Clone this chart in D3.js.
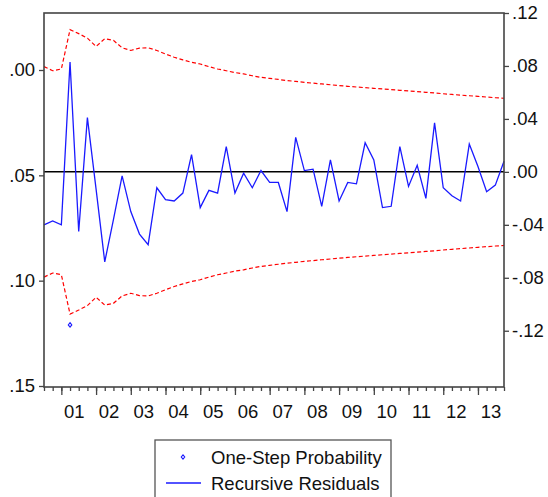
<!DOCTYPE html>
<html>
<head>
<meta charset="utf-8">
<script src="https://cdn.jsdelivr.net/npm/d3@7/dist/d3.min.js"></script>
<style>
  html, body { margin: 0; padding: 0; background: #fff; }
  svg { display: block; }
  text { font-family: "Liberation Sans", Arial, sans-serif; fill: #111; }
</style>
</head>
<body>
<svg id="chart" width="548" height="497"></svg>
<script>
// ---- data ----
const periods = [
  "2000Q3","2000Q4",
  "2001Q1","2001Q2","2001Q3","2001Q4","2002Q1","2002Q2","2002Q3","2002Q4",
  "2003Q1","2003Q2","2003Q3","2003Q4","2004Q1","2004Q2","2004Q3","2004Q4",
  "2005Q1","2005Q2","2005Q3","2005Q4","2006Q1","2006Q2","2006Q3","2006Q4",
  "2007Q1","2007Q2","2007Q3","2007Q4","2008Q1","2008Q2","2008Q3","2008Q4",
  "2009Q1","2009Q2","2009Q3","2009Q4","2010Q1","2010Q2","2010Q3","2010Q4",
  "2011Q1","2011Q2","2011Q3","2011Q4","2012Q1","2012Q2","2012Q3","2012Q4",
  "2013Q1","2013Q2","2013Q3","2013Q4"
];
const yearLabels = ["01","02","03","04","05","06","07","08","09","10","11","12","13"];
const recursiveResiduals = [
  -0.040, -0.037, -0.040, 0.083, -0.045, 0.041, -0.013, -0.068, -0.036, -0.003,
  -0.030, -0.047, -0.055, -0.012, -0.021, -0.022, -0.016, 0.013, -0.027, -0.014,
  -0.016, 0.019, -0.016, -0.001, -0.012, 0.001, -0.008, -0.008, -0.030, 0.026,
  0.001, 0.002, -0.026, 0.009, -0.022, -0.008, -0.009, 0.022, 0.009, -0.027,
  -0.026, 0.019, -0.011, 0.005, -0.020, 0.037, -0.012, -0.018, -0.022, 0.021,
  0.004, -0.015, -0.010, 0.008
];
// +/- 2 S.E. band (upper; lower is its mirror)
const twoSE = [
  0.0795, 0.0764, 0.0777, 0.1074, 0.1044, 0.1010, 0.0947, 0.1006, 0.0993, 0.0937,
  0.0917, 0.0935, 0.0937, 0.0917, 0.0890, 0.0866, 0.0846, 0.0828, 0.0815, 0.0795,
  0.0777, 0.0764, 0.0750, 0.0740, 0.0726, 0.0714, 0.0706, 0.0698, 0.0690, 0.0683,
  0.0676, 0.0670, 0.0664, 0.0658, 0.0652, 0.0646, 0.0641, 0.0636, 0.0631, 0.0626,
  0.0621, 0.0616, 0.0611, 0.0606, 0.0601, 0.0596, 0.0590, 0.0585, 0.0580, 0.0575,
  0.0570, 0.0565, 0.0560, 0.0556
];
const oneStepPeriods = ["2001Q2"];
const oneStepProb = [0.121];
const leftTicks = [0, 0.05, 0.10, 0.15];
const rightTicks = [-0.12, -0.08, -0.04, 0, 0.04, 0.08, 0.12];
const legendLabels = ["One-Step Probability", "Recursive Residuals"];

// ---- layout ----
const L = 44, R = 504, T = 13, B = 387;
const FS = 18.5;
const svg = d3.select("#chart");

const x = d3.scalePoint().domain(periods).range([L, R]);
const yR = d3.scaleLinear().domain([-0.1625, 0.12]).range([B, T]);
const yL = d3.scaleLinear().domain([0, 0.15]).range([70, 386]);

const fmt = v => {
  const s = d3.format(".2f")(Math.abs(v)).replace(/^0/, "");
  return (v < -1e-9 ? "-" : "") + s;
};

// zero line
svg.append("line")
  .attr("x1", L).attr("x2", R)
  .attr("y1", yR(0)).attr("y2", yR(0))
  .attr("stroke", "#000").attr("stroke-width", 1.5);

// bands
const bandLine = sign => d3.line()
  .x((d, i) => x(periods[i]))
  .y(d => yR(sign * d));
["up", "down"].forEach((k, j) => {
  svg.append("path")
    .datum(twoSE)
    .attr("d", bandLine(j === 0 ? 1 : -1))
    .attr("fill", "none")
    .attr("stroke", "#ff0000")
    .attr("stroke-width", 1.2)
    .attr("stroke-dasharray", "4,2.5");
});

// residuals
svg.append("path")
  .datum(recursiveResiduals)
  .attr("d", d3.line().x((d, i) => x(periods[i])).y(d => yR(d)))
  .attr("fill", "none")
  .attr("stroke", "#1a1aff")
  .attr("stroke-width", 1.3);

// one-step probability markers
const diamond = (cx, cy, r) => `M${cx},${cy - r}L${cx + r * 0.8},${cy}L${cx},${cy + r}L${cx - r * 0.8},${cy}Z`;
svg.selectAll(".prob").data(oneStepProb).enter().append("path")
  .attr("d", (d, i) => diamond(x(oneStepPeriods[i]), yL(d), 2.2))
  .attr("fill", "none").attr("stroke", "#1a1aff").attr("stroke-width", 1.1);

// frame
svg.append("rect")
  .attr("x", L).attr("y", T).attr("width", R - L).attr("height", B - T)
  .attr("fill", "none").attr("stroke", "#444").attr("stroke-width", 1.6);

// left axis
const gL = svg.append("g").attr("transform", `translate(${L},0)`)
  .call(d3.axisLeft(yL).tickValues(leftTicks).tickSize(5).tickPadding(4).tickFormat(fmt));
// right axis
const gR = svg.append("g").attr("transform", `translate(${R},0)`)
  .call(d3.axisRight(yR).tickValues(rightTicks).tickSize(5).tickPadding(3).tickFormat(fmt));
// bottom minor ticks
const gB = svg.append("g").attr("transform", `translate(0,${B})`)
  .call(d3.axisBottom(x).tickValues(periods).tickSize(4).tickFormat(""));
const gB2 = svg.append("g").attr("transform", `translate(0,${B})`)
  .call(d3.axisBottom(x).tickValues(periods.filter(p => p.endsWith("Q1"))).tickSize(8).tickFormat(""));

[gL, gR, gB, gB2].forEach(g => {
  g.select(".domain").remove();
  g.selectAll(".tick line").attr("stroke", "#444").attr("stroke-width", 1.3);
  g.selectAll("text").style("font-size", FS + "px").attr("fill", "#111")
    .style("font-family", '"Liberation Sans", Arial, sans-serif');
});

// year labels centered mid-year
svg.append("g").selectAll("text").data(yearLabels).enter().append("text")
  .attr("x", d => (x("20" + d + "Q2") + x("20" + d + "Q3")) / 2)
  .attr("y", 418)
  .attr("text-anchor", "middle")
  .style("font-size", FS + "px")
  .text(d => d);

// legend
const lg = svg.append("g");
lg.append("rect").attr("x", 155).attr("y", 440).attr("width", 236).attr("height", 70)
  .attr("fill", "#fff").attr("stroke", "#555").attr("stroke-width", 1.3);
lg.append("path").attr("d", diamond(183, 457, 2.2))
  .attr("fill", "none").attr("stroke", "#1a1aff").attr("stroke-width", 1.1);
lg.append("line").attr("x1", 166).attr("x2", 201).attr("y1", 483).attr("y2", 483)
  .attr("stroke", "#1a1aff").attr("stroke-width", 1.3);
lg.selectAll("text").data(legendLabels).enter().append("text")
  .attr("x", 211).attr("y", (d, i) => 463.5 + i * 26.5)
  .style("font-size", FS + "px")
  .text(d => d);
</script>
</body>
</html>
